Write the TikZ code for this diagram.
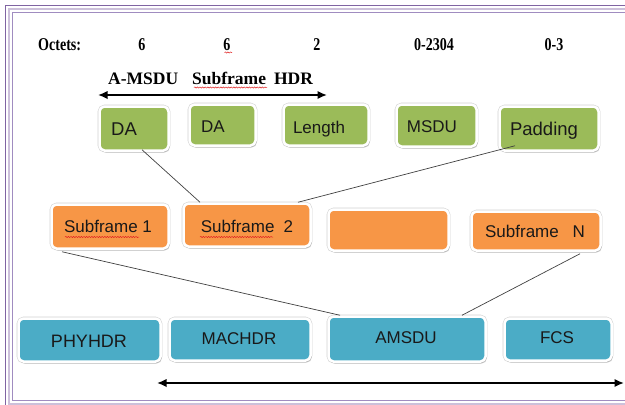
\documentclass[tikz,border=0pt]{standalone}
\usepackage{fontspec}
\setmainfont{Liberation Sans}
\newfontfamily\hdrfont{Liberation Serif}
\newfontfamily\octfont[FakeStretch=0.78]{Liberation Serif}
\usetikzlibrary{arrows.meta,shadows,calc,decorations.pathmorphing}
\definecolor{boxgreen}{HTML}{9BBB59}
\definecolor{boxorange}{HTML}{F79646}
\definecolor{boxblue}{HTML}{4BACC6}
\definecolor{framedark}{HTML}{8064A2}
\definecolor{framelight}{HTML}{CCC0DA}
\definecolor{framemid}{HTML}{A08CC0}
\definecolor{spellred}{HTML}{E02020}
\tikzset{
  fbox/.style={rounded corners=5pt, draw=white, line width=2.5pt, inner sep=0pt,
    preaction={draw=black!18, line width=3.6pt},
    drop shadow={shadow xshift=1.2pt, shadow yshift=-2pt, fill=black!45, opacity=0.45}},
  gbox/.style={fbox, fill=boxgreen},
  obox/.style={fbox, fill=boxorange},
  bbox/.style={fbox, fill=boxblue},
  lbl/.style={anchor=base, inner sep=0pt, text=black!90, font=\fontsize{17pt}{20pt}\selectfont},
  biglbl/.style={lbl, font=\fontsize{18.5pt}{22pt}\selectfont},
  octlbl/.style={anchor=base, inner sep=0pt, font=\octfont\bfseries\fontsize{18pt}{20pt}\selectfont},
  conn/.style={draw=black!75, line width=0.7pt},
  dimarrow/.style={line width=2pt, {Latex[length=9.5pt,width=8.5pt]}-{Latex[length=9.5pt,width=8.5pt]}},
  squiggle/.style={draw=spellred, line width=0.5pt, decorate, decoration={snake, amplitude=0.6pt, segment length=2.6pt}}
}
\begin{document}
\begin{tikzpicture}[x=1pt,y=-1pt]
\useasboundingbox (0,0) rectangle (625,405);
\clip (0,0) rectangle (625,405);

% page frame
\draw[framedark, line width=1.5pt] (5.5,5.5) rectangle (660,430);
\draw[framelight, line width=2pt] (9,9) rectangle (660,403.5);
\draw[framemid, line width=1pt] (12,12) rectangle (660,400.5);

% header texts
\node[octlbl, anchor=base west] (oct) at (38,50) {Octets:};
\node[octlbl] (n1) at (142,50) {6};
\node[octlbl] (n2) at (227,50) {6};
\node[octlbl] (n3) at (317,50) {2};
\node[octlbl] (n4) at (434,50) {0-2304};
\node[octlbl] (n5) at (554,50) {0-3};
\node[anchor=base west, inner sep=0pt, font=\hdrfont\bfseries\fontsize{17.5pt}{20pt}\selectfont] (hdr) at (108,84)
  {A-MSDU\hspace{14pt}Subframe\hspace{8pt}HDR};

% dimension arrows
\coordinate (ta1) at (98,95);
\coordinate (ta2) at (327,95);
\draw[dimarrow] (ta1) -- (ta2);
\coordinate (ba1) at (157,383);
\coordinate (ba2) at (624,383);
\draw[dimarrow] (ba1) -- (ba2);

% green row
\node[gbox, minimum width=69pt, minimum height=44pt] (g1) at (134,128.5) {};
\node[gbox, minimum width=66pt, minimum height=41pt] (g2) at (222.5,125) {};
\node[gbox, minimum width=85pt, minimum height=41pt] (g3) at (326,125) {};
\node[gbox, minimum width=80pt, minimum height=42pt] (g4) at (436.5,125.5) {};
\node[gbox, minimum width=99pt, minimum height=44pt] (g5) at (549,128.5) {};
\node[biglbl] (tg1) at (124,135) {DA};
\node[lbl] (tg2) at (213,132) {DA};
\node[lbl] (tg3) at (319,133) {Length};
\node[lbl] (tg4) at (432,132) {MSDU};
\node[biglbl] (tg5) at (544,135) {Padding};

% orange row
\node[obox, minimum width=117pt, minimum height=44pt] (o1) at (110,226.5) {};
\node[obox, minimum width=127pt, minimum height=43pt] (o2) at (247,225) {};
\node[obox, minimum width=120pt, minimum height=41pt] (o3) at (388.5,230) {};
\node[obox, minimum width=129pt, minimum height=39pt] (o4) at (536,231) {};
\node[lbl] (to1) at (108,232) {Subframe 1};
\node[lbl] (to2) at (247,232) {Subframe\hspace{4.5pt} 2};
\node[lbl] (to4) at (535,237.5) {Subframe\hspace{9pt} N};

% blue row
\node[bbox, minimum width=142pt, minimum height=43pt] (b1) at (89.5,340) {};
\node[bbox, minimum width=141pt, minimum height=42pt] (b2) at (240,339.5) {};
\node[bbox, minimum width=157pt, minimum height=45pt] (b3) at (407,339) {};
\node[bbox, minimum width=107pt, minimum height=42pt] (b4) at (558,339.5) {};
\node[lbl, font=\fontsize{18pt}{21pt}\selectfont] (tb1) at (89,347) {PHYHDR};
\node[lbl] (tb2) at (239,344) {MACHDR};
\node[lbl] (tb3) at (406,343.5) {AMSDU};
\node[lbl] (tb4) at (557,343.5) {FCS};

% connectors
\draw[conn] ($(g1.south)+(8,-2)$) -- ($(o2.north)+(-47,0)$);
\draw[conn] ($(g5.south)+(-34,-6)$) -- ($(o2.north)+(51,0)$);
\draw[conn] ($(o1.south)+(-48,2)$) -- ($(b3.north)+(-67,0)$);
\draw[conn] ($(o4.south)+(44,2)$) -- ($(b3.north)+(55,0)$);

% spell-check underlines
\draw[squiggle] (224.5,52.5) -- (232,52.5);
\draw[squiggle] (194,87.5) -- (267,87.5);
\draw[squiggle] (65,237) -- (139,237);
\draw[squiggle] (200,237) -- (273,237);
\end{tikzpicture}
\end{document}
